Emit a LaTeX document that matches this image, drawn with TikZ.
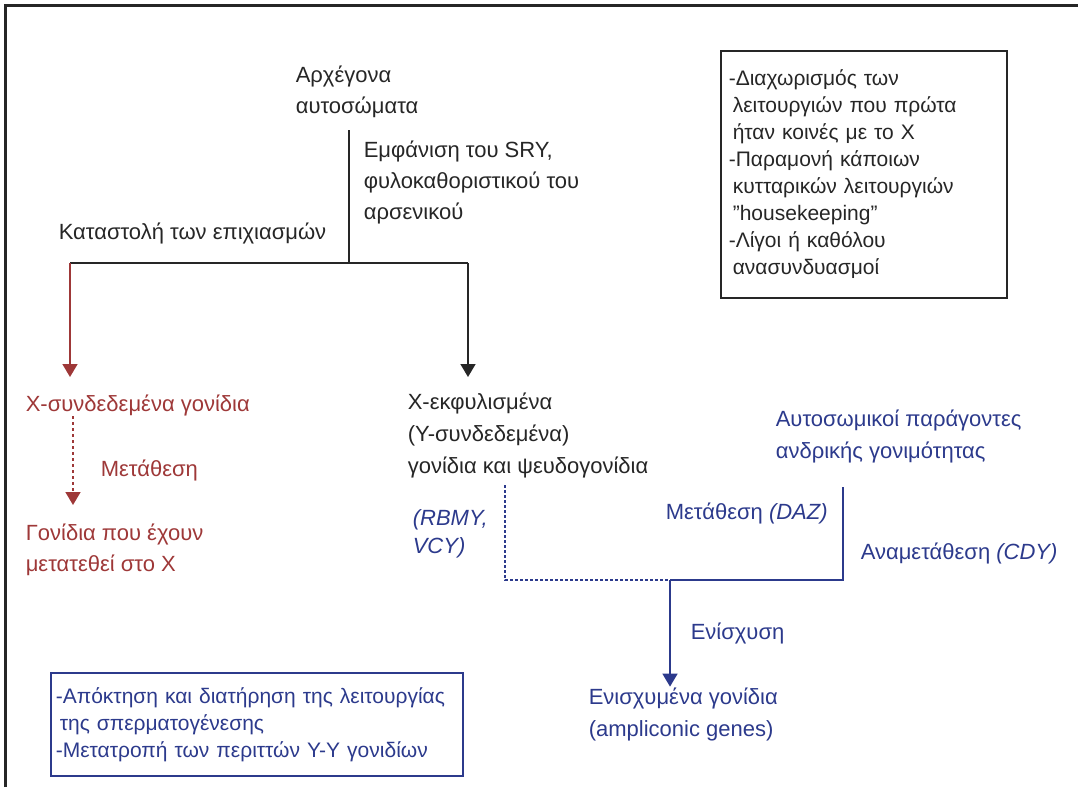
\documentclass[tikz,border=0pt]{standalone}
\usepackage{fontspec}
\setmainfont{Liberation Sans}
\usetikzlibrary{arrows.meta}

\definecolor{redbrown}{RGB}{158,56,56}
\definecolor{navyblue}{RGB}{44,58,140}
\definecolor{inkgrey}{RGB}{38,38,38}

\tikzset{every picture/.style={line width=1.6pt}}

\begin{document}
\begin{tikzpicture}[x=1pt,y=1pt,yscale=-1,xscale=1,
	lbl/.style={anchor=west,inner sep=0pt,align=left,text=inkgrey,font=\fontsize{22}{31}\selectfont},
	redlbl/.style={lbl,text=redbrown},
	bluelbl/.style={lbl,text=navyblue},
	tip/.style={-{Triangle[width=15pt,length=13pt]}}]
		\useasboundingbox (0,0) rectangle (1078,787);
		%frame on top and left side only
		\draw [line width=3pt,color=inkgrey] (5,787) -- (5,5) -- (1078,5) ;
		
		\node [lbl] (root) at (295,92) {Αρχέγονα\\αυτοσώματα};
		\node [lbl] (sry) at (363,182) {Εμφάνιση του SRY,\\φυλοκαθοριστικού του\\αρσενικού};
		\node [lbl] (supp) at (58,233) {Καταστολή των επιχιασμών};
		
		%box of Y functions
		\node [draw=inkgrey,anchor=north west,inner xsep=8pt,inner ysep=0pt,text width=270pt,minimum height=247pt,align=left,text=inkgrey,font=\fontsize{21}{27}\selectfont] (ybox) at (720,50) {-Διαχωρισμός των\\\hspace*{4pt}λειτουργιών που πρώτα\\\hspace*{4pt}ήταν κοινές με το Χ\\-Παραμονή κάποιων\\\hspace*{4pt}κυτταρικών λειτουργιών\\\hspace*{4pt}\symbol{"22}housekeeping\symbol{"22}\\-Λίγοι ή καθόλου\\\hspace*{4pt}ανασυνδυασμοί};
		
		\node [redlbl] (xlinked) at (25,405) {Χ-συνδεδεμένα γονίδια};
		\node [redlbl] (transp) at (100,470) {Μετάθεση};
		\node [redlbl] (moved) at (25,550) {Γονίδια που έχουν\\μετατεθεί στο Χ};
		
		\node [lbl,font=\fontsize{22}{32}\selectfont] (xdeg) at (407,435) {Χ-εκφυλισμένα\\(Υ-συνδεδεμένα)\\γονίδια και ψευδογονίδια};
		\node [bluelbl,font=\fontsize{22}{28}\itshape] (rbmy) at (412,534) {(RBMY,\\VCY)};
		\node [bluelbl] (daz) at (665,513) {Μετάθεση \textit{(DAZ)}};
		\node [bluelbl] (cdy) at (860,553) {Αναμετάθεση \textit{(CDY)}};
		\node [bluelbl,font=\fontsize{22}{32}\selectfont] (auto) at (775,436) {Αυτοσωμικοί παράγοντες\\ανδρικής γονιμότητας};
		\node [bluelbl] (ampl) at (690,633) {Ενίσχυση};
		\node [bluelbl,font=\fontsize{22}{32}\selectfont] (amplgenes) at (588,714) {Ενισχυμένα γονίδια\\(ampliconic genes)};
		
		%box of spermatogenesis
		\node [draw=navyblue,anchor=north west,inner xsep=5pt,inner ysep=0pt,text width=402pt,minimum height=103pt,align=left,text=navyblue,font=\fontsize{21}{27}\selectfont] (sbox) at (50,672) {-Απόκτηση και διατήρηση της λειτουργίας\\\hspace*{4pt}της σπερματογένεσης\\-Μετατροπή των περιττών Υ-Υ γονιδίων};
		
		\coordinate (split) at (349,263);
		\coordinate (left) at (70,263);
		\coordinate (right) at (468,263);
		\coordinate (dotcol) at (505,580);
		\coordinate (join) at (670,580);
		\coordinate (autocol) at (843,580);
		
		\draw [color=inkgrey] (split |- 0,130) -- (split) ;
		\draw [color=inkgrey] (left) -- (right) ;
		\draw [tip,color=redbrown] (left) -- (left |- 0,377) ;
		\draw [tip,color=inkgrey] (right) -- (right |- 0,377) ;
		\draw [tip,color=redbrown,dashed] (xlinked.south -| 73,0) -- (73,505) ;
		
		\draw [color=navyblue,densely dashed] (dotcol |- 0,485) -- (dotcol) -- (join) ;
		\draw [color=navyblue] (join) -- (autocol) -- (autocol |- 0,487) ;
		\draw [tip,color=navyblue] (join) -- (join |- amplgenes.north) ;
		
\end{tikzpicture}
\end{document}
